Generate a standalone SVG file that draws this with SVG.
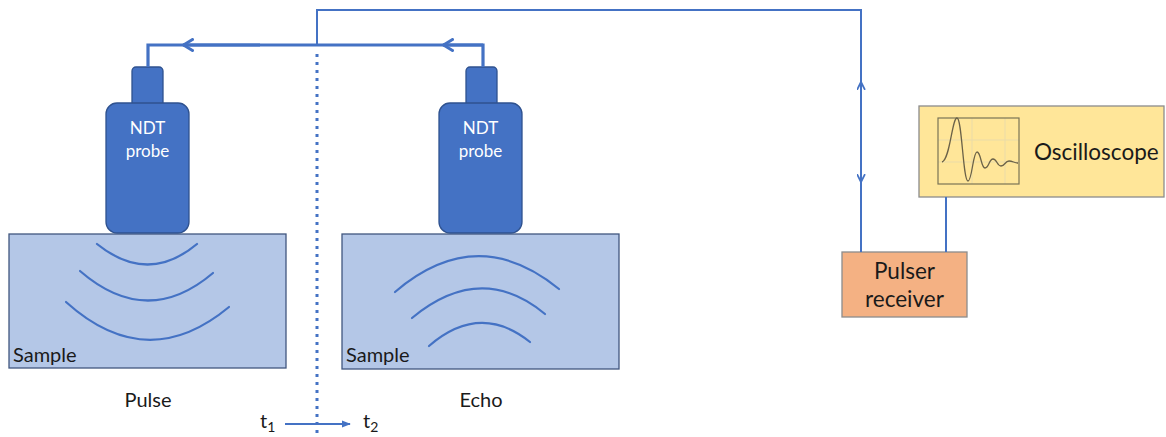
<svg xmlns="http://www.w3.org/2000/svg" width="1166" height="437" viewBox="0 0 1166 437">
  <defs>
    <marker id="chev" viewBox="0 0 10 10" refX="9" refY="5" markerWidth="9" markerHeight="9" markerUnits="userSpaceOnUse" orient="auto">
      <path d="M1,1 L9,5 L1,9" fill="none" stroke="#4472C4" stroke-width="2" stroke-linecap="round" stroke-linejoin="round"/>
    </marker>
    <marker id="chev-lg" viewBox="0 0 12 14" refX="11" refY="7" markerWidth="12" markerHeight="14" markerUnits="userSpaceOnUse" orient="auto">
      <path d="M1.5,1.5 L10.5,7 L1.5,12.5" fill="none" stroke="#4472C4" stroke-width="3" stroke-linecap="round" stroke-linejoin="round"/>
    </marker>
    <marker id="tri" viewBox="0 0 10 10" refX="9" refY="5" markerWidth="9" markerHeight="9" markerUnits="userSpaceOnUse" orient="auto">
      <path d="M0,1 L10,5 L0,9 Z" fill="#4472C4"/>
    </marker>
  </defs>
  <style>
    text { font-family: Lato, "Open Sans", "Liberation Sans", sans-serif; fill: #1a1a1a; }
    .wire { fill: none; stroke: #4472C4; stroke-width: 2; }
    .bus { fill: none; stroke: #4472C4; stroke-width: 3.2; }
    .wave { fill: none; stroke: #4472C4; stroke-width: 2.2; stroke-linecap: round; }
    .probe { fill: #4472C4; stroke: #2F528F; stroke-width: 1.3; }
    .sample { fill: #B4C7E7; stroke: #41577F; stroke-width: 1.3; }
    .probe-label { fill: #ffffff; font-size: 17px; text-anchor: middle; }
    .label { font-size: 20px; }
    .big { font-size: 22.5px; }
  </style>

  <!-- Samples -->
  <g id="sample-pulse">
    <rect class="sample" x="9" y="234" width="277" height="134"/>
    <path class="wave" d="M97,244 Q148,285 197,244"/>
    <path class="wave" d="M80,271 Q147,329 213,273"/>
    <path class="wave" d="M66,302 Q147,375 229,307"/>
    <text class="label" x="13" y="362">Sample</text>
  </g>
  <g id="sample-echo">
    <rect class="sample" x="342" y="234" width="277" height="135"/>
    <path class="wave" d="M395,292 Q477,222 559,289"/>
    <path class="wave" d="M412,318 Q481,261 545,314"/>
    <path class="wave" d="M429,346 Q480,302 530,342"/>
    <text class="label" x="346" y="362">Sample</text>
  </g>

  <!-- Probes -->
  <g id="probe-pulse">
    <rect class="probe" x="132" y="67" width="31" height="40" rx="4"/>
    <rect class="probe" x="106" y="103" width="83" height="130" rx="11"/>
    <text class="probe-label" x="147.5" y="134">NDT</text>
    <text class="probe-label" x="147.5" y="157">probe</text>
  </g>
  <g id="probe-echo">
    <rect class="probe" x="466" y="67" width="31" height="40" rx="4"/>
    <rect class="probe" x="439" y="103" width="83" height="130" rx="11"/>
    <text class="probe-label" x="480.5" y="134">NDT</text>
    <text class="probe-label" x="480.5" y="157">probe</text>
  </g>

  <!-- Oscilloscope -->
  <g id="oscilloscope">
    <rect x="919" y="106" width="245" height="91" fill="#FFE699" stroke="#8C8C8C" stroke-width="1.3"/>
    <g fill="none" stroke="#EADBA8" stroke-width="1">
      <line x1="972" y1="118" x2="972" y2="184"/>
      <line x1="1005" y1="118" x2="1005" y2="184"/>
      <line x1="938" y1="140" x2="1019" y2="140"/>
      <line x1="938" y1="162" x2="1019" y2="162"/>
    </g>
    <rect x="938" y="118" width="81" height="66" fill="none" stroke="#7A7456" stroke-width="1.2"/>
    <path d="M942,162 C950,160 952,118 957,118 C962,118 963,181 968,181 C972,181 973,152 977,152 C981,152 981,168 985,168 C989,168 989,159 993,159 C997,159 997,166 1001,166 C1005,166 1005,161 1009,161 C1013,161 1014,163 1018,163" fill="none" stroke="#6B6248" stroke-width="1.3"/>
    <text class="big" x="1034" y="160">Oscilloscope</text>
  </g>

  <!-- Pulser receiver -->
  <g id="pulser-receiver">
    <rect x="842" y="252" width="125" height="65" fill="#F4B183" stroke="#8C8C8C" stroke-width="1.3"/>
    <text class="big" x="904.5" y="279" text-anchor="middle">Pulser</text>
    <text class="big" x="904.5" y="307" text-anchor="middle">receiver</text>
  </g>

  <!-- Connectors -->
  <g id="connectors">
    <!-- bus between the probes -->
    <path class="bus" d="M148,67 V45 H483 V67"/>
    <path class="bus" d="M260,45 H183" marker-end="url(#chev-lg)"/>
    <path class="bus" d="M483,45 H443" marker-end="url(#chev-lg)"/>
    <!-- line to the pulser receiver -->
    <path class="wire" d="M317,46 V10 H861 V252"/>
    <path class="wire" d="M861,120 V82" marker-end="url(#chev)"/>
    <path class="wire" d="M861,140 V182" marker-end="url(#chev)"/>
    <!-- pulser receiver to oscilloscope -->
    <path class="wire" d="M946,197 V252"/>
    <!-- timeline divider -->
    <line x1="317" y1="54" x2="317" y2="437" stroke="#4472C4" stroke-width="3" stroke-dasharray="3 5"/>
    <!-- time arrow -->
    <line x1="285" y1="424" x2="350" y2="424" stroke="#4472C4" stroke-width="2" marker-end="url(#tri)"/>
  </g>

  <!-- Labels -->
  <g id="labels">
    <text class="label" x="148" y="407" text-anchor="middle">Pulse</text>
    <text class="label" x="481" y="407" text-anchor="middle">Echo</text>
    <text class="label" x="260" y="428">t<tspan font-size="14" dy="4">1</tspan></text>
    <text class="label" x="363" y="428">t<tspan font-size="14" dy="4">2</tspan></text>
  </g>
</svg>
